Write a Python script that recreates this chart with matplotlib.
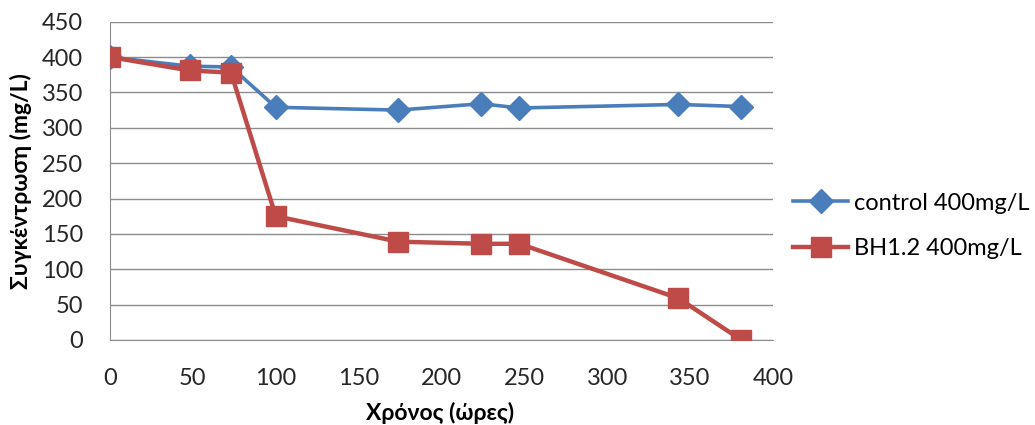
import matplotlib
matplotlib.use("Agg")
import matplotlib.pyplot as plt

plt.rcParams['font.family'] = ['Lato', 'DejaVu Sans']

# sampling times (hours) and measured concentration (mg/L)
hours = [0, 48, 73, 100, 174, 224, 247, 343, 381]
control = [400, 387, 386, 329, 325, 334, 328, 333, 330]
bh12 = [400, 381, 378, 175, 139, 136, 136, 59, 0]
series_names = ['control 400mg/L', 'BH1.2 400mg/L']

blue = '#4A7EBB'
red = '#BE4B48'

fig = plt.figure(figsize=(10.35, 4.25), dpi=100)
ax = fig.add_axes([0.1063, 0.2, 0.6405, 0.749])

ax.plot(hours, control, color=blue, lw=2.6, marker='D', markersize=12,
        markeredgecolor=blue, label=series_names[0], zorder=3)
ax.plot(hours, bh12, color=red, lw=3.2, marker='s', markersize=15,
        markeredgecolor=red, label=series_names[1], zorder=4)

ax.set_xlim(0, 400)
ax.set_ylim(0, 450)
ax.set_xticks(range(0, 401, 50))
ax.set_yticks(range(0, 451, 50))
ax.yaxis.grid(True, color='#8C8C8C', lw=1)
ax.set_axisbelow(True)
for side in ['top', 'right']:
    ax.spines[side].set_visible(False)
for side in ['left', 'bottom']:
    ax.spines[side].set_color('#8C8C8C')
ax.tick_params(axis='y', length=0, pad=19.5, labelsize=17, labelcolor='#262626')
ax.tick_params(axis='x', length=0, pad=20, labelsize=17, labelcolor='#262626')

ax.set_xlabel('Χρόνος (ώρες)', fontsize=16.5, fontweight='bold', va='top')
ax.xaxis.set_label_coords(0.498, -0.195)
ax.set_ylabel('Συγκέντρωση (mg/L)', fontsize=16.5, fontweight='bold')
ax.yaxis.set_label_coords(-0.117, 0.5)

fig.legend(loc='center left', bbox_to_anchor=(0.746, 0.468), frameon=False,
           fontsize=17, handlelength=2.33, labelspacing=1.05, handletextpad=0.25)

fig.savefig('out.png', dpi=100)
